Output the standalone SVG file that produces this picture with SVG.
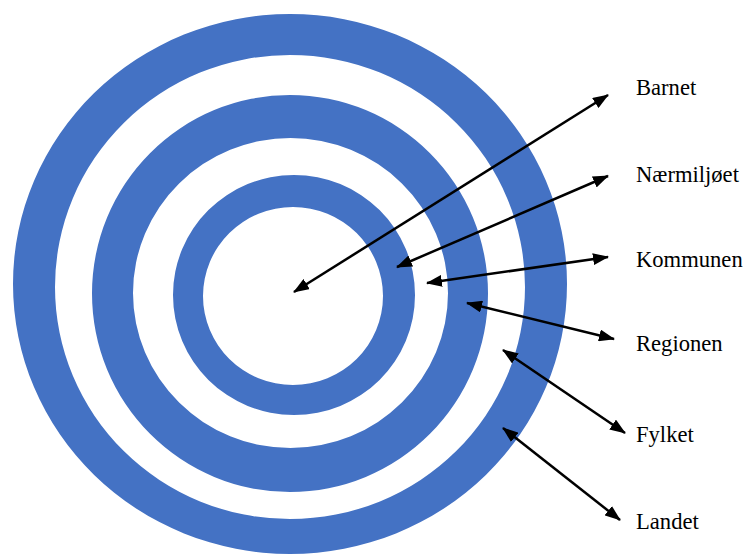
<svg xmlns="http://www.w3.org/2000/svg" width="747" height="556" viewBox="0 0 747 556">
<style>
.ring{fill:#4472C4;fill-rule:evenodd}
.arr{stroke:#000;stroke-width:2.5;fill:none;marker-start:url(#ah);marker-end:url(#ah)}
.lbl{font-family:"Liberation Serif","Times New Roman",serif;font-size:22.6px;fill:#000}
</style>
<defs>
<marker id="ah" markerUnits="userSpaceOnUse" markerWidth="16" markerHeight="12" refX="15" refY="6" orient="auto-start-reverse">
<path d="M0,0 L16,6 L0,12 Z" fill="#000"/>
</marker>
</defs>
<rect width="747" height="556" fill="#fff"/>
<g id="ring-outer">
<path class="ring" d="M13,284 A277,270 0 1,0 567,284 A277,270 0 1,0 13,284 Z M55,287 A235,232 0 1,0 525,287 A235,232 0 1,0 55,287 Z"/>
</g>
<g id="ring-middle">
<path class="ring" d="M92,293.5 A198,198.5 0 1,0 488,293.5 A198,198.5 0 1,0 92,293.5 Z M133,293 A157.5,155 0 1,0 448,293 A157.5,155 0 1,0 133,293 Z"/>
</g>
<g id="ring-inner">
<path class="ring" d="M173,295 A121,120 0 1,0 415,295 A121,120 0 1,0 173,295 Z M203,296 A90,89 0 1,0 383,296 A90,89 0 1,0 203,296 Z"/>
</g>
<g id="connectors">
<line class="arr" x1="294" y1="292" x2="608" y2="95"/>
<line class="arr" x1="397" y1="267" x2="608" y2="176"/>
<line class="arr" x1="427" y1="283" x2="608" y2="257"/>
<line class="arr" x1="467" y1="303" x2="614" y2="339"/>
<line class="arr" x1="503" y1="350" x2="625" y2="433"/>
<line class="arr" x1="503" y1="428" x2="620" y2="520"/>
</g>
<g id="label-barnet"><text class="lbl" x="636" y="95">Barnet</text></g>
<g id="label-naermiljoet"><text class="lbl" x="636" y="182">Nærmiljøet</text></g>
<g id="label-kommunen"><text class="lbl" x="636" y="267">Kommunen</text></g>
<g id="label-regionen"><text class="lbl" x="636" y="351">Regionen</text></g>
<g id="label-fylket"><text class="lbl" x="636" y="442">Fylket</text></g>
<g id="label-landet"><text class="lbl" x="636" y="529">Landet</text></g>
</svg>
